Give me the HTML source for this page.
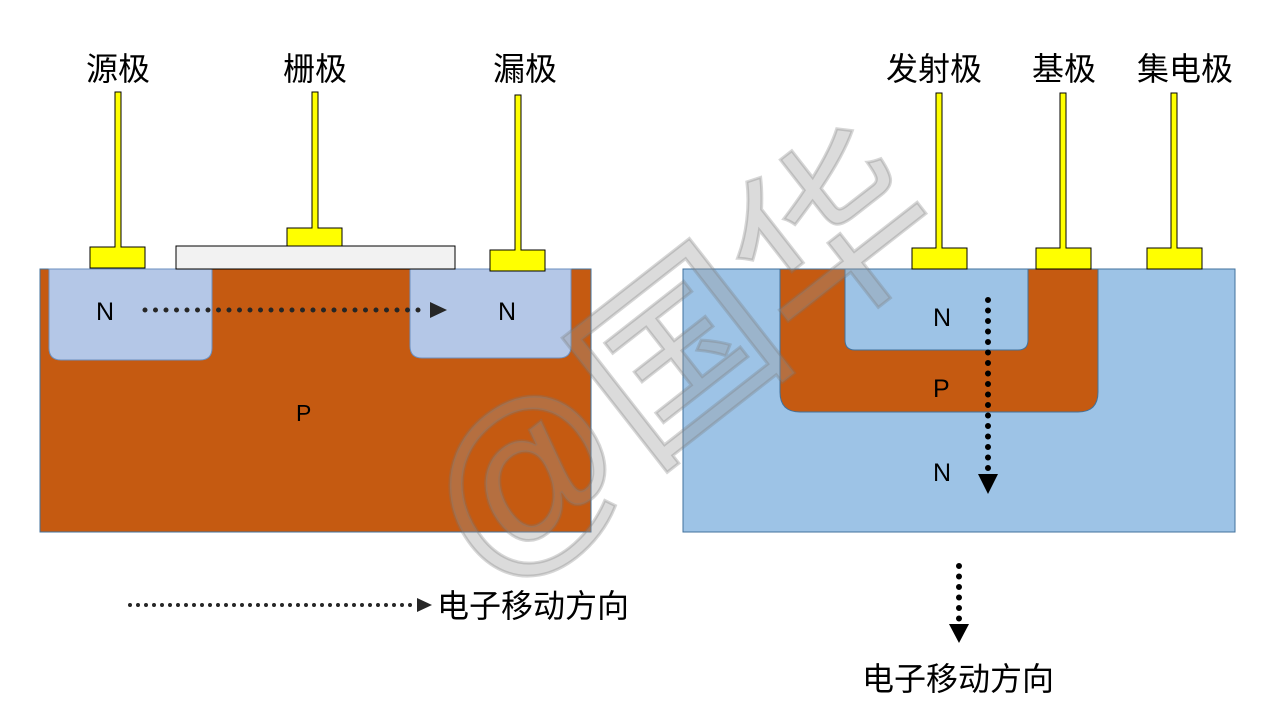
<!DOCTYPE html>
<html><head><meta charset="utf-8"><style>
body{margin:0;background:#fff;}
svg text{font-family:"Liberation Sans","Noto Sans CJK SC",sans-serif;}
</style></head><body>
<svg width="1280" height="720" viewBox="0 0 1280 720" xmlns="http://www.w3.org/2000/svg">
<!-- Left MOSFET -->
<rect x="40" y="269" width="551" height="263" fill="#C55A11" stroke="#41719C" stroke-width="1"/>
<path d="M49 269 V348 Q49 360 61 360 H200 Q212 360 212 348 V269 Z" fill="#B4C7E7" stroke="#6b8fbf" stroke-width="1"/>
<path d="M410 269 V346 Q410 358 422 358 H559 Q571 358 571 346 V269 Z" fill="#B4C7E7" stroke="#6b8fbf" stroke-width="1"/>
<rect x="176" y="246" width="279" height="23" fill="#F2F2F2" stroke="#000" stroke-width="1"/>
<g fill="#FFFF00" stroke="#000" stroke-width="1">
<path d="M115 92 H121 V247 H145 V268 H90 V247 H115 Z"/>
<path d="M312 92 H318 V228 H342 V246 H287 V228 H312 Z"/>
<path d="M515 95 H521 V250 H545 V271 H490 V250 H515 Z"/>
</g>
<g font-size="25" fill="#000">
<text x="96" y="320">N</text><text x="498" y="320">N</text><text x="296" y="421" font-size="23">P</text>
</g>
<line x1="145" y1="310" x2="428" y2="310" stroke="#262626" stroke-width="5" stroke-linecap="round" stroke-dasharray="0 10.5"/>
<polygon points="430,302 447,310 430,318" fill="#262626"/>
<!-- Right BJT -->
<rect x="683" y="269" width="552" height="263" fill="#9DC3E6" stroke="#41719C" stroke-width="1"/>
<path d="M780 269 V392 Q780 412 800 412 H1078 Q1098 412 1098 392 V269 Z" fill="#C55A11" stroke="#41719C" stroke-width="1"/>
<path d="M845 269 V340 Q845 350 855 350 H1018 Q1028 350 1028 340 V269 Z" fill="#9DC3E6" stroke="#41719C" stroke-width="1"/>
<g fill="#FFFF00" stroke="#000" stroke-width="1">
<path d="M936 93 H942 V248 H967 V269 H912 V248 H936 Z"/>
<path d="M1060 93 H1066 V248 H1091 V269 H1036 V248 H1060 Z"/>
<path d="M1171 93 H1177 V248 H1202 V269 H1147 V248 H1171 Z"/>
</g>
<g font-size="25" fill="#000">
<text x="933" y="326">N</text><text x="933" y="397">P</text><text x="933" y="481">N</text>
</g>
<line x1="988" y1="300" x2="988" y2="472" stroke="#000" stroke-width="6" stroke-linecap="round" stroke-dasharray="0 10.5"/>
<polygon points="978,474 998,474 988,494" fill="#000"/>
<!-- Watermark -->
<text x="680" y="425" font-size="195" fill="#999" fill-opacity="0.35" stroke="#777" stroke-opacity="0.3" stroke-width="3" transform="rotate(-38 680 360)" text-anchor="middle">@国华</text>
<!-- Labels -->
<g font-size="32" fill="#000" text-anchor="middle">
<text x="118" y="80">源极</text>
<text x="315" y="80">栅极</text>
<text x="525" y="80">漏极</text>
<text x="934" y="80">发射极</text>
<text x="1064" y="80">基极</text>
<text x="1185" y="80">集电极</text>
</g>
<!-- Legends -->
<line x1="130" y1="605" x2="413" y2="605" stroke="#262626" stroke-width="4" stroke-linecap="round" stroke-dasharray="0 8"/>
<polygon points="417,598 432,605 417,612" fill="#262626"/>
<text x="437" y="617" font-size="32" fill="#000">电子移动方向</text>
<line x1="959" y1="566" x2="959" y2="622" stroke="#000" stroke-width="6" stroke-linecap="round" stroke-dasharray="0 10.5"/>
<polygon points="949,624 969,624 959,643" fill="#000"/>
<text x="958" y="690" font-size="32" fill="#000" text-anchor="middle">电子移动方向</text>
</svg>
</body></html>
